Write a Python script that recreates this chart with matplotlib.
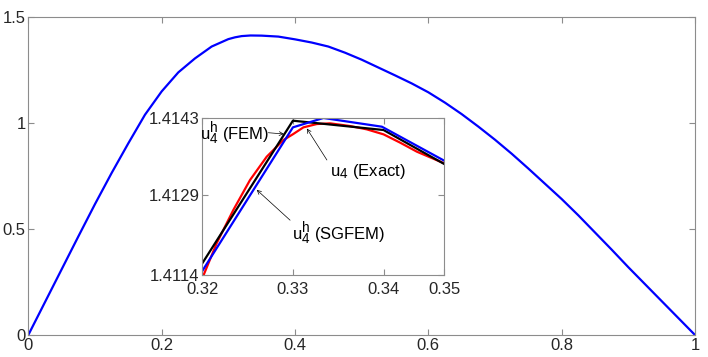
import numpy as np
import matplotlib
matplotlib.use("Agg")
import matplotlib.pyplot as plt

try:
    import matplotlib._mathtext as _mt
    _mt.SHRINK_FACTOR = 0.82  # larger sub/superscripts, closer to the reference
except Exception:
    pass

plt.rcParams['font.family'] = ['Liberation Sans', 'DejaVu Sans']
plt.rcParams['mathtext.fontset'] = 'custom'
plt.rcParams['mathtext.rm'] = 'Liberation Sans'

# main curve (SGFEM solution)
x_main = [0.0, 0.025, 0.05, 0.075, 0.1, 0.125, 0.15, 0.175, 0.2, 0.225, 0.25, 0.275,
          0.3, 0.31, 0.32, 0.3333, 0.35, 0.375, 0.4, 0.425, 0.45, 0.475, 0.5, 0.525,
          0.55, 0.575, 0.6, 0.625, 0.65, 0.675, 0.7, 0.725, 0.75, 0.775, 0.8, 0.825,
          0.85, 0.875, 0.9, 0.925, 0.95, 0.975, 1.0]
u_main = [0.0, 0.155, 0.31, 0.465, 0.618, 0.765, 0.905, 1.04, 1.15, 1.24, 1.306, 1.362,
          1.397, 1.4055, 1.4113, 1.4142, 1.4135, 1.409, 1.396, 1.381, 1.362, 1.333, 1.300, 1.263,
          1.226, 1.188, 1.146, 1.097, 1.043, 0.984, 0.922, 0.856, 0.786, 0.714, 0.642, 0.565,
          0.484, 0.403, 0.320, 0.240, 0.160, 0.080, 0.0]

# zoomed window
x_exact = [0.32, 0.321584, 0.323425, 0.325267, 0.327109, 0.32895, 0.329982, 0.33116,
           0.332634, 0.334107, 0.336317, 0.338158, 0.34, 0.341842, 0.343683, 0.3467]
u_exact = [1.411339, 1.411984, 1.412598, 1.413151, 1.413581, 1.413888, 1.413993, 1.414122,
           1.414183, 1.414196, 1.414146, 1.414085, 1.413993, 1.413839, 1.413673, 1.413458]
x_fem = [0.32, 0.33, 0.34, 0.3467]
u_fem = [1.411615, 1.414245, 1.414073, 1.413446]
x_sg = [0.32, 0.33, 0.33337, 0.33982, 0.3467]
u_sg = [1.411474, 1.414122, 1.414295, 1.414134, 1.413507]

inset_xticks = [0.32, 0.33, 0.34, 0.3467]
inset_xlabels = ['0.32', '0.33', '0.34', '0.35']
inset_yticks = [1.41140, 1.412875, 1.41430]
inset_ylabels = ['1.4114', '1.4129', '1.4143']

spine_col = '#8c8c8c'
text_col = '#262626'
fs = 12

fig = plt.figure(figsize=(7.08, 3.57), dpi=100)
ax = fig.add_axes([0.03997, 0.0616, 0.9417, 0.8899])
ax.plot(x_main, u_main, color='blue', lw=1.6)
ax.set_xlim(0, 1)
ax.set_ylim(0, 1.5)
ax.set_xticks([0, 0.2, 0.4, 0.6, 0.8, 1])
ax.set_xticklabels(['0', '0.2', '0.4', '0.6', '0.8', '1'])
ax.set_yticks([0, 0.5, 1, 1.5])
ax.set_yticklabels(['0', '0.5', '1', '1.5'])

ins = fig.add_axes([0.2857, 0.2297, 0.3418, 0.4406])
ins.plot(x_exact, u_exact, color='red', lw=1.6)
ins.plot(x_fem, u_fem, color='black', lw=1.6)
ins.plot(x_sg, u_sg, color='blue', lw=1.6)
ins.set_xlim(0.32, 0.3467)
ins.set_ylim(1.41140, 1.41430)
ins.set_xticks(inset_xticks)
ins.set_xticklabels(inset_xlabels)
ins.set_yticks(inset_yticks)
ins.set_yticklabels(inset_ylabels)

for a in (ax, ins):
    for s in a.spines.values():
        s.set_color(spine_col)
        s.set_linewidth(0.8)
    a.tick_params(direction='in', top=True, right=True, length=4, width=0.8,
                  color=spine_col, labelcolor=text_col, labelsize=fs, pad=2)
ins.tick_params(axis='x', pad=5)

arrow = dict(arrowstyle='->', color='black', lw=0.5, shrinkA=0, shrinkB=0,
             mutation_scale=7)
ins.text(0.3198, 1.414000, r'$\mathregular{u_4^h}$ (FEM)', ha='left', va='center',
         fontsize=fs, color='black', clip_on=False)
ins.annotate('', xy=(0.3290, 1.41400), xytext=(0.32729, 1.414023), arrowprops=arrow)
ins.text(0.33411, 1.413303, r'$\mathregular{u_4}$ (Exact)', ha='left', va='center',
         fontsize=fs, color='black')
ins.annotate('', xy=(0.33154, 1.41410), xytext=(0.33375, 1.41352), arrowprops=arrow)
ins.text(0.32988, 1.412152, r'$\mathregular{u_4^h}$ (SGFEM)', ha='left', va='center',
         fontsize=fs, color='black')
ins.annotate('', xy=(0.32601, 1.41297), xytext=(0.32969, 1.41241), arrowprops=arrow)

fig.savefig('out.png', dpi=100)
